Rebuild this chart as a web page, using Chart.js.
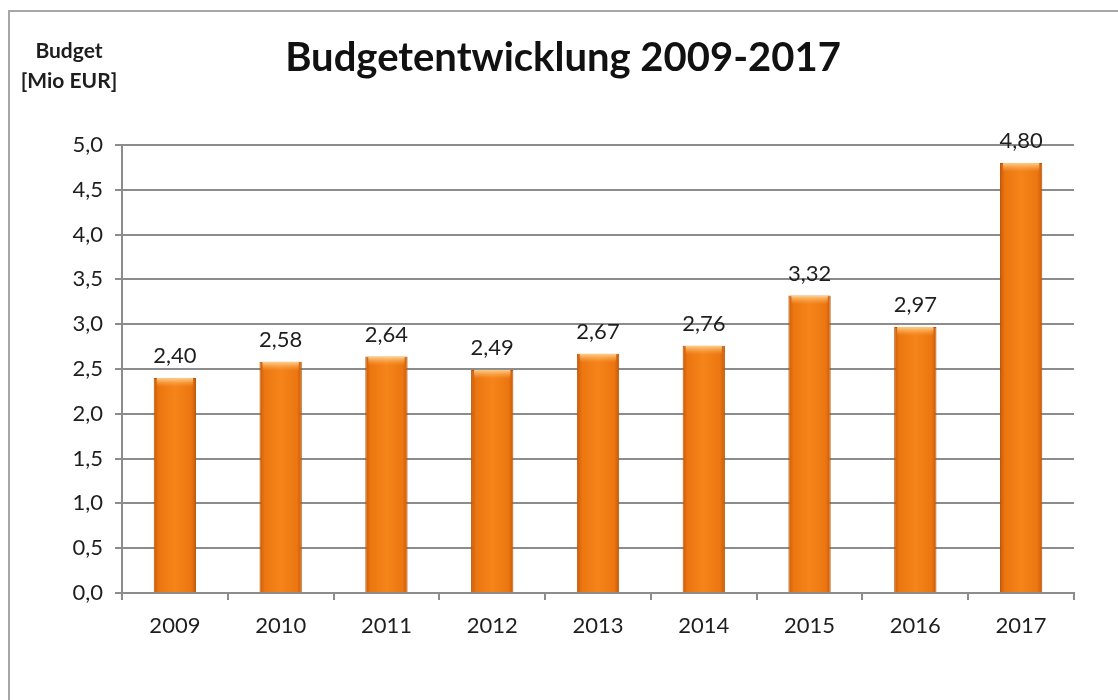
<!DOCTYPE html>
<html>
<head>
<meta charset="utf-8">
<script src="https://cdn.jsdelivr.net/npm/chart.js@4/dist/chart.umd.min.js"></script>
<style>
  body { margin: 0; background: #fff; overflow: hidden; }
  #frame { position: absolute; left: 8px; top: 10px; width: 1200px; height: 800px; border: 2px solid #a6a6a6; }
  #wrap { position: absolute; left: 0; top: 0; width: 1118px; height: 700px; }
</style>
</head>
<body>
<div id="frame"></div>
<div id="wrap"><canvas id="myChart" width="1118" height="700"></canvas></div>
<script>
const years = ["2009", "2010", "2011", "2012", "2013", "2014", "2015", "2016", "2017"];
const budget = [2.40, 2.58, 2.64, 2.49, 2.67, 2.76, 3.32, 2.97, 4.80];
const yMin = 0;
const yMax = 5;
const yStep = 0.5;

const FONT = "Lato, 'Open Sans', sans-serif";

// horizontal gradient so the bars look a bit rounded like the excel ones
function barFill(ctx) {
  const chart = ctx.chart;
  const x = chart.scales.x;
  if (!chart.chartArea || !x || ctx.dataIndex === undefined) return "#f07c12";
  const cx = x.getPixelForValue(ctx.dataIndex);
  const w = (x.width / years.length) * 0.4;
  if (!isFinite(cx) || !isFinite(w) || w <= 0) return "#f07c12";
  const g = chart.ctx.createLinearGradient(cx - w / 2, 0, cx + w / 2, 0);
  g.addColorStop(0, "#c95a06");
  g.addColorStop(0.12, "#ec7610");
  g.addColorStop(0.5, "#f5841a");
  g.addColorStop(0.88, "#ec7610");
  g.addColorStop(1, "#c95a06");
  return g;
}

const barLabels = {
  id: "barLabels",
  afterDatasetsDraw(chart) {
    const c = chart.ctx;
    const meta = chart.getDatasetMeta(0);
    c.save();
    meta.data.forEach((bar, i) => {
      // light bevel on the top of each bar
      const g = c.createLinearGradient(0, bar.y, 0, bar.y + 9);
      g.addColorStop(0, "rgba(255,214,150,0.95)");
      g.addColorStop(1, "rgba(255,170,80,0)");
      c.fillStyle = g;
      c.fillRect(bar.x - bar.width / 2 + 3, bar.y, bar.width - 6, 9);

      c.fillStyle = "#1e1e1e";
      c.font = "22px " + FONT;
      c.textAlign = "center";
      c.textBaseline = "middle";
      c.fillText(budget[i].toFixed(2).replace(".", ","), bar.x, bar.y - 22);
    });
    c.restore();
  },
};

const axisTitle = {
  id: "axisTitle",
  afterDraw(chart) {
    const c = chart.ctx;
    c.save();
    c.fillStyle = "#1e1e1e";
    c.font = "bold 21px " + FONT;
    c.textAlign = "center";
    c.textBaseline = "middle";
    c.fillText("Budget", 69, 51);
    c.fillText("[Mio EUR]", 69, 81);
    c.restore();
  },
};

new Chart("myChart", {
  type: "bar",
  data: {
    labels: years,
    datasets: [
      {
        label: "Budget",
        data: budget,
        backgroundColor: barFill,
        borderColor: "#b85206",
        borderWidth: 1,
        barPercentage: 0.5,
        categoryPercentage: 0.8,
      },
    ],
  },
  options: {
    responsive: false,
    animation: false,
    layout: { padding: { left: 52, right: 44, top: 0, bottom: 0 } },
    plugins: {
      legend: { display: false },
      tooltip: { enabled: false },
      title: {
        display: true,
        text: "Budgetentwicklung 2009-2017",
        color: "#111",
        font: { family: FONT, size: 40, weight: "bold" },
        padding: { top: 34, bottom: 63 },
      },
    },
    scales: {
      x: {
        grid: { drawOnChartArea: false, color: "#8c8c8c", lineWidth: 2, tickLength: 7, offset: true },
        border: { color: "#8c8c8c", width: 2 },
        ticks: { color: "#1e1e1e", font: { family: FONT, size: 22 }, padding: 13 },
        afterFit: (s) => { s.height = 107; },
      },
      y: {
        min: yMin,
        max: yMax,
        grid: { color: "#8c8c8c", lineWidth: 2, tickLength: 7 },
        border: { color: "#8c8c8c", width: 2 },
        ticks: {
          stepSize: yStep,
          color: "#1e1e1e",
          font: { family: FONT, size: 22 },
          padding: 12,
          callback: (v) => v.toFixed(1).replace(".", ","),
        },
        afterFit: (s) => { s.width = 70; },
      },
    },
  },
  plugins: [barLabels, axisTitle],
});
</script>
</body>
</html>
